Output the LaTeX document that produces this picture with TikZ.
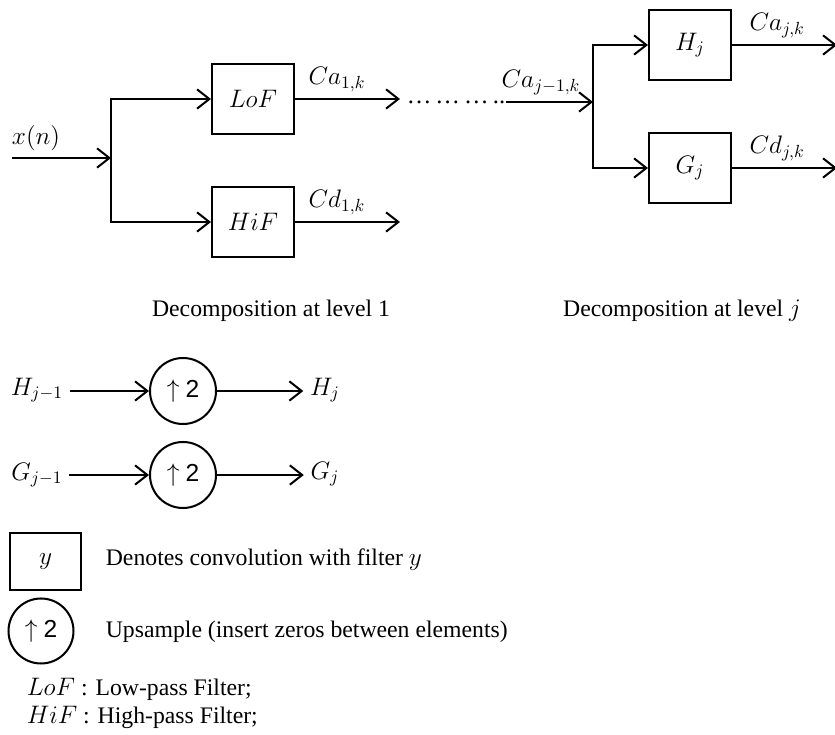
\documentclass[tikz,border=0pt]{standalone}
\usepackage{fontspec}
\setmainfont{Liberation Serif}
\setsansfont{Liberation Sans}
\usetikzlibrary{arrows.meta}

\begin{document}
\begin{tikzpicture}[
    >={Straight Barb[length=7pt,width=11pt]},
    line width=1.15pt,
    filterbox/.style={draw, rectangle, minimum width=1.64cm, minimum height=1.4cm, font=\fontsize{14}{16}\selectfont},
    upcircle/.style={draw, circle, minimum size=1.32cm, inner sep=0pt, font=\fontsize{14}{16}\selectfont},
    lbl/.style={font=\fontsize{14}{16}\selectfont},
    txt/.style={font=\fontsize{13.5}{15}\selectfont}]

     \useasboundingbox (0,0) rectangle (16.7,-14.7);

     % Decomposition at level 1
     \coordinate (xin) at (0.24,-3.16);
     \coordinate (split1) at (2.22,-3.16);
     \node[lbl] (xlabel) at (0.72,-2.76) {$x(n)$};
     \node[filterbox] (lof) at (5.06,-1.98) {$LoF$};
     \node[filterbox] (hif) at (5.06,-4.44) {$HiF$};
     \coordinate (ca1) at (8.0,-1.98);
     \coordinate (cd1) at (8.0,-4.44);

     \draw[->] (xin) -- (split1);
     \draw[->] (split1) |- (lof.west);
     \draw[->] (split1) |- (hif.west);
     \draw[->] (lof) -- node[lbl, above, pos=0.4] {$Ca_{1,k}$} (ca1);
     \draw[->] (hif) -- node[lbl, above, pos=0.4] {$Cd_{1,k}$} (cd1);

     % Dots between levels
     \node[lbl, inner sep=0pt] (dots) at (9.12,-2.04) {\ldots\,\ldots\,\ldots\,..};

     % Decomposition at level j
     \coordinate (split2) at (11.86,-2.04);
     \node[filterbox] (hj) at (13.8,-0.9) {$H_j$};
     \node[filterbox] (gj) at (13.8,-3.36) {$G_j$};
     \coordinate (caj) at (16.74,-0.9);
     \coordinate (cdj) at (16.74,-3.36);

     \draw[->] (dots) -- node[lbl, above, pos=0.4] {$Ca_{j-1,k}$} (split2);
     \draw[->] (split2) |- (hj.west);
     \draw[->] (split2) |- (gj.west);
     \draw[->] (hj) -- node[lbl, above, pos=0.43] {$Ca_{j,k}$} (caj);
     \draw[->] (gj) -- node[lbl, above, pos=0.43] {$Cd_{j,k}$} (cdj);

     % Captions
     \node[txt] (cap1) at (5.42,-6.22) {Decomposition at level 1};
     \node[txt] (capj) at (13.64,-6.22) {Decomposition at level $j$};

     % Upsampling of the filters
     \node[lbl] (hprev) at (0.74,-7.8) {$H_{j-1}$};
     \node[upcircle] (up1) at (3.66,-7.82) {$\uparrow$ \textsf{2}};
     \node[lbl] (hnext) at (6.5,-7.8) {$H_j$};
     \draw[->] (hprev.east |- up1) -- (up1);
     \draw[->] (up1) -- (hnext.west |- up1);

     \node[lbl] (gprev) at (0.74,-9.5) {$G_{j-1}$};
     \node[upcircle] (up2) at (3.66,-9.5) {$\uparrow$ \textsf{2}};
     \node[lbl] (gnext) at (6.5,-9.48) {$G_j$};
     \draw[->] (gprev.east |- up2) -- (up2);
     \draw[->] (up2) -- (gnext.west |- up2);

     % Legend
     \node[draw, rectangle, minimum width=1.42cm, minimum height=1.14cm, lbl] (keybox) at (0.91,-11.23) {$y$};
     \node[txt, anchor=west] (keyboxtxt) at (1.98,-11.2) {Denotes convolution with filter $y$};
     \node[draw, circle, minimum size=1.3cm, inner sep=0pt, lbl] (keycirc) at (0.82,-12.62) {$\uparrow$ \textsf{2}};
     \node[txt, anchor=west] (keycirctxt) at (1.98,-12.64) {Upsample (insert zeros between elements)};
     \node[txt, anchor=west] (keylof) at (0.4,-13.78) {$LoF$ : Low-pass Filter;};
     \node[txt, anchor=west] (keyhif) at (0.4,-14.34) {$HiF$ : High-pass Filter;};

\end{tikzpicture}
\end{document}
